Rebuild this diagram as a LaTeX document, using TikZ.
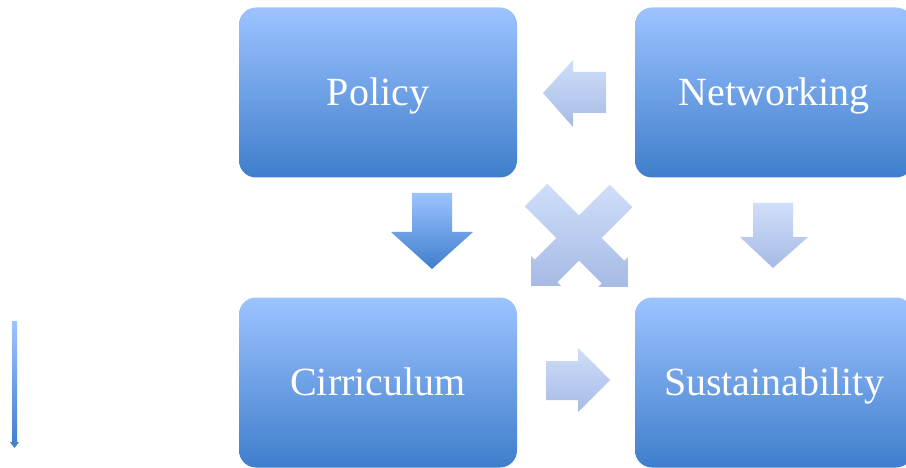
\documentclass[tikz,border=0pt]{standalone}
\usepackage{fontspec}
\setmainfont{Liberation Serif}
\definecolor{boxtop}{RGB}{157,195,255}
\definecolor{boxbot}{RGB}{63,126,204}
\definecolor{paletop}{RGB}{207,222,250}
\definecolor{palebot}{RGB}{166,186,228}
\tikzset{
    area/.style={rounded corners=17pt,top color=boxtop,bottom color=boxbot,
        minimum width=278pt,minimum height=170pt,text=white,
        text height=30pt,text depth=4pt,
        font=\fontsize{40}{48}\selectfont},
    palearrow/.style={top color=paletop,bottom color=palebot},
    bluearrow/.style={top color=boxtop,bottom color=boxbot}
}
\begin{document}
\begin{tikzpicture}[x=1pt,y=-1pt]
    \useasboundingbox (0,0) rectangle (906,468);
    \clip (0,0) rectangle (906,468);

    \node[area] (policy) at (378,92.5) {Policy};
    \node[area] (network) at (774,92.5) {Networking};
    \node[area] (curric) at (378,382.5) {Cirriculum};
    \node[area] (sustain) at (774,382.5) {Sustainability};

    % block arrows between the boxes
    \shade[palearrow] (606,72)--(573,72)--(573,60)--(543,93)--(573,127)--(573,113)--(606,113)--cycle;
    \shade[bluearrow] (412,193)--(452,193)--(452,232)--(473,232)--(432,269)--(391,232)--(412,232)--cycle;
    \shade[palearrow] (753,203)--(793,203)--(793,237)--(808,237)--(773,268)--(740,237)--(753,237)--cycle;
    \shade[palearrow] (546,361)--(578,361)--(578,348)--(610,380)--(578,412)--(578,400)--(546,400)--cycle;

    % the cross
    \begin{scope}[shift={(536,195)},rotate=-45]
        \shade[palearrow] (0,-16)--(109,-16)--(109,-21)--(130,0)--(109,21)--(109,16)--(0,16)--cycle;
    \end{scope}
    \begin{scope}[shift={(621,196)},rotate=-135]
        \shade[palearrow] (0,-16)--(106,-16)--(106,-21)--(127,0)--(106,21)--(106,16)--(0,16)--cycle;
    \end{scope}

    % thin arrow at the left
    \shade[bluearrow] (12,321)--(17,321)--(17,442)--(19,442)--(14.5,448)--(10,442)--(12,442)--cycle;
\end{tikzpicture}
\end{document}
